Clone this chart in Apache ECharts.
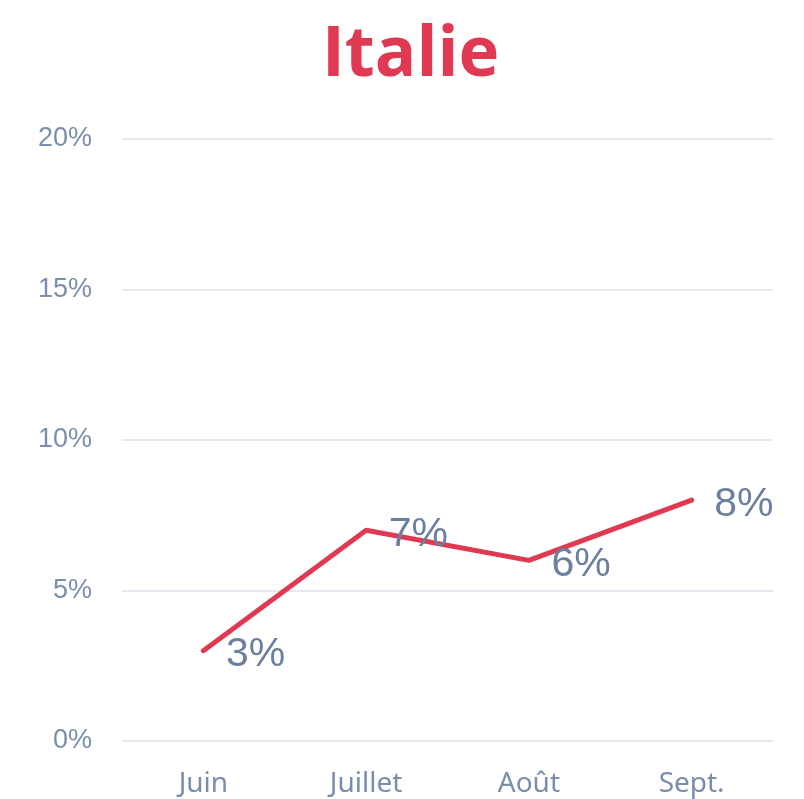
<!DOCTYPE html>
<html>
<head>
<meta charset="utf-8">
<script src="https://cdn.jsdelivr.net/npm/echarts@6/dist/echarts.min.js"></script>
<style>html,body{margin:0;padding:0;background:#fff;}#c{width:804px;height:799px;}</style>
</head>
<body>
<div id="c"></div>
<script>
const categories = ['Juin', 'Juillet', 'Août', 'Sept.'];
const values = [3, 7, 6, 8];
const yTicks = [0, 5, 10, 15, 20];
const titleText = 'Italie';

const chart = echarts.init(document.getElementById('c'));
chart.setOption({
  backgroundColor: '#ffffff',
  animation: false,
  title: {
    text: titleText,
    left: 317,
    top: 17,
    textStyle: { fontFamily: 'Open Sans', fontWeight: 'bold', fontSize: 69, color: '#e03a52' }
  },
  grid: { left: 122, right: 31, top: 139, bottom: 58 },
  xAxis: {
    type: 'category',
    data: categories,
    boundaryGap: true,
    axisLine: { show: false },
    axisTick: { show: false },
    axisLabel: { fontFamily: 'Noto Sans', fontSize: 28, color: '#7a8eab', margin: 29 }
  },
  yAxis: {
    type: 'value',
    min: yTicks[0],
    max: yTicks[yTicks.length - 1],
    interval: 5,
    axisLine: { show: false },
    axisTick: { show: false },
    splitLine: { lineStyle: { color: '#dde2ea', width: 1.5 } },
    axisLabel: { fontFamily: 'Liberation Sans', fontSize: 27, color: '#7a8eab', margin: 30, formatter: v => v + '%' }
  },
  series: [{
    type: 'line',
    data: values,
    showSymbol: true,
    symbol: 'circle',
    symbolSize: 1,
    itemStyle: { color: 'rgba(0,0,0,0)' },
    lineStyle: { color: '#e03a52', width: 5, cap: 'round' },
    label: {
      show: true,
      position: 'right',
      distance: 22,
      offset: [0, 4],
      fontFamily: 'Liberation Sans',
      fontSize: 41,
      color: '#6b7f9e',
      formatter: p => p.value + '%'
    }
  }]
});
</script>
</body>
</html>
